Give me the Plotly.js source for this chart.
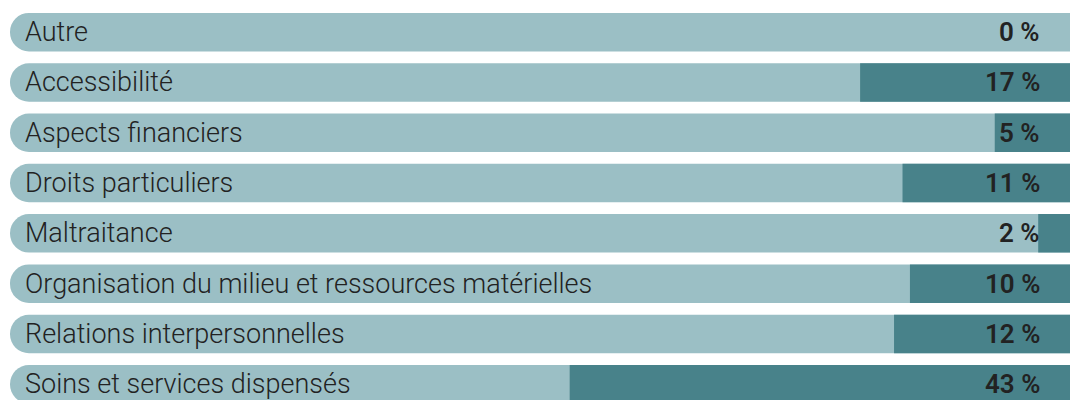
<!DOCTYPE html>
<html>
<head>
<meta charset="utf-8">
<script src="https://cdn.plot.ly/plotly-3.0.1.min.js"></script>
<style>
html,body{margin:0;padding:0;background:#fff;}
#chart{width:1070px;height:400px;}
</style>
</head>
<body>
<div id="chart"></div>
<script>
// Categories (top to bottom)
const categories = [
  "Autre",
  "Accessibilité",
  "Aspects financiers",
  "Droits particuliers",
  "Maltraitance",
  "Organisation du milieu et ressources matérielles",
  "Relations interpersonnelles",
  "Soins et services dispensés"
];
// Displayed percentages
const percents = [0, 17, 5, 11, 2, 10, 12, 43];
// Dark bar lengths (share of the full track, 0–100)
const darkLengths = [0, 19.8, 7.1, 15.8, 3.0, 15.1, 16.6, 47.2];
// Full track length
const trackLength = 100;

const LIGHT = "#9bbfc5";
const DARK = "#48828a";
const idx = categories.map((_, i) => i);

const trackTrace = {
  type: "bar",
  orientation: "h",
  y: idx,
  x: categories.map(() => trackLength + 20),
  base: categories.map(() => 0),
  marker: {color: LIGHT, cornerradius: "50%", line: {width: 0}},
  hoverinfo: "skip",
  showlegend: false
};

const darkTrace = {
  type: "bar",
  orientation: "h",
  y: idx,
  x: darkLengths.map(v => v > 0 ? v + 20 : 0),
  base: darkLengths.map(v => trackLength - v),
  marker: {color: DARK, line: {width: 0}},
  hoverinfo: "skip",
  showlegend: false
};

const annotations = [];
categories.forEach((c, i) => {
  annotations.push({
    xref: "paper", yref: "y",
    x: 23 / 1070, y: i,
    xanchor: "left", yanchor: "middle",
    text: c, showarrow: false,
    font: {family: "Roboto, sans-serif", size: 27, color: "#222", weight: 300}
  });
  annotations.push({
    xref: "paper", yref: "y",
    x: 1042 / 1070, y: i,
    xanchor: "right", yanchor: "middle",
    text: percents[i] + " %", showarrow: false,
    font: {family: "Roboto, sans-serif", size: 26, color: "#222", weight: 600}
  });
});

const layout = {
  width: 1070, height: 400,
  margin: {l: 0, r: 0, t: 7, b: 0, pad: 0},
  paper_bgcolor: "#fff", plot_bgcolor: "#fff",
  barmode: "overlay",
  bargap: 0.234,
  xaxis: {range: [-10 / 10.6, trackLength], visible: false, fixedrange: true},
  yaxis: {range: [7.313, -0.5], visible: false, fixedrange: true},
  annotations: annotations,
  showlegend: false
};

Plotly.newPlot("chart", [trackTrace, darkTrace], layout, {displayModeBar: false, staticPlot: true});
</script>
</body>
</html>
